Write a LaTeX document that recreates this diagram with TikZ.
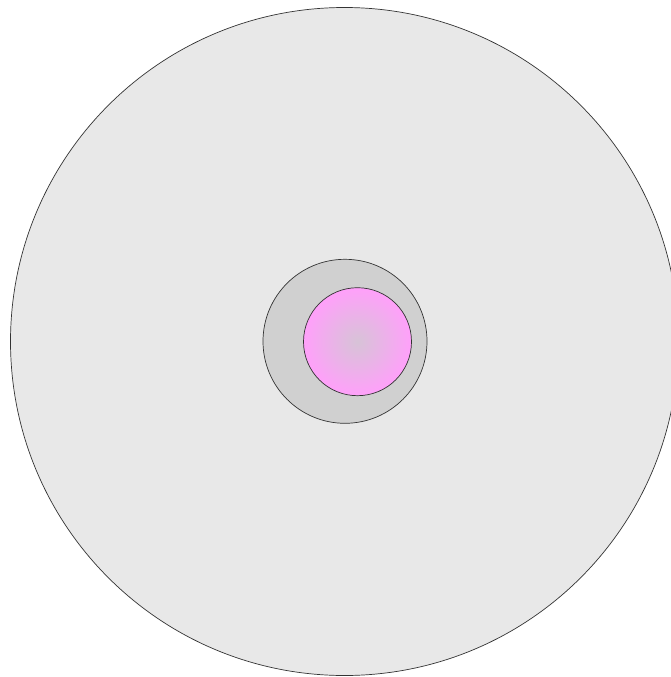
\documentclass[tikz,border=0pt]{standalone}
\begin{document}
\begin{tikzpicture}[x=1pt,y=-1pt,
  ring/.style={draw=black!80, line width=0.7pt}]
\definecolor{discgray}{RGB}{232,232,232}
\definecolor{midgray}{RGB}{208,208,208}
\definecolor{pinkout}{RGB}{255,160,250}
\definecolor{pinkin}{RGB}{215,195,215}
\useasboundingbox (0,0) rectangle (671,677);
\fill[white] (0,0) rectangle (671,677);
\begin{scope}
\clip (0,0) rectangle (671,677);
\draw[ring, fill=discgray] (344.5,341.5) circle (334);
\end{scope}
\draw[ring, fill=midgray] (345,341.3) circle (82);
\draw[ring, inner color=pinkin, outer color=pinkout] (357.5,341.7) circle (54);
\end{tikzpicture}
\end{document}
